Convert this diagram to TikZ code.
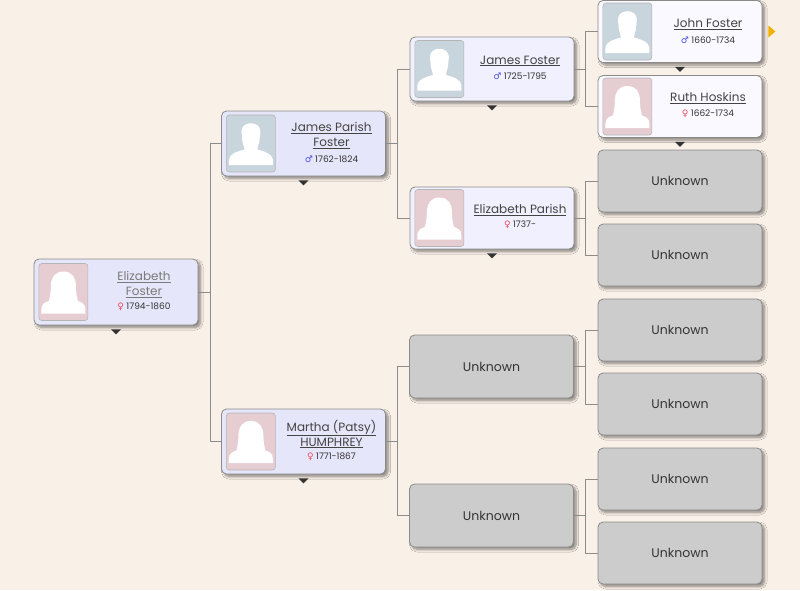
\documentclass[tikz,border=0pt]{standalone}
\usepackage{fontspec}
\setmainfont{Poppins}
\newfontfamily\symfont{DejaVu Sans}
\usetikzlibrary{shadows.blur,positioning,calc}
\definecolor{bgc}{HTML}{F9F0E7}
\definecolor{lav}{HTML}{E6E6FA}
\definecolor{lav2}{HTML}{F0F0FE}
\definecolor{lav3}{HTML}{F9F9FF}
\definecolor{unkc}{HTML}{CCCCCC}
\definecolor{boxborder}{HTML}{8A8A8A}
\definecolor{connc}{HTML}{8C8C8C}
\definecolor{malecol}{HTML}{C9D5DC}
\definecolor{femalecol}{HTML}{E6CDD1}
\definecolor{photoborder}{HTML}{B5B5B5}
\definecolor{linkc}{HTML}{444444}
\definecolor{visitc}{HTML}{7A7A7A}
\definecolor{datec}{HTML}{333333}
\definecolor{msym}{HTML}{4A4AE0}
\definecolor{fsym}{HTML}{E84A5A}
\definecolor{tric}{HTML}{333333}
\definecolor{goldc}{HTML}{F0B000}
\newcommand\malesym{{\symfont\textcolor{msym}{♂}}}
\newcommand\femalesym{{\symfont\textcolor{fsym}{♀}}}
\tikzset{
  box/.style={draw=boxborder, line width=0.8pt, rounded corners=5pt, minimum width=164pt,
    minimum height=64pt, inner sep=0pt,
    blur shadow={shadow xshift=2.5pt, shadow yshift=-2.5pt, shadow blur steps=8, shadow blur radius=2.5pt, shadow opacity=45}},
  unk/.style={box, fill=unkc, minimum height=62pt, text=datec, font=\fontsize{12.5}{14}\selectfont},
  photo/.style={draw=photoborder, line width=0.6pt, rounded corners=3pt, minimum width=49pt,
    minimum height=57pt, inner sep=0pt},
  link/.style={text=linkc, font=\fontsize{12}{15}\selectfont, align=center, inner sep=0pt},
  dates/.style={text=datec, font=\fontsize{9}{10}\selectfont, inner sep=0pt},
  conn/.style={draw=connc, line width=0.8pt},
  tri/.style={fill=tric},
  male/.pic={
    \fill[white] (-9.5,-12) .. controls (-9.5,-23) and (9.5,-23) .. (9.5,-12) -- (8.5,-2)
      .. controls (7.5,2) and (6.5,4) .. (6.5,6) .. controls (14,8) and (21,10) .. (22,16)
      -- (22,21.5) -- (-22,21.5) -- (-22,16) .. controls (-21,10) and (-14,8) .. (-6.5,6)
      .. controls (-6.5,4) and (-7.5,2) .. (-8.5,-2) -- cycle;
  },
  female/.pic={
    \fill[white] (0,-20.5) .. controls (-9,-20.5) and (-12.5,-14) .. (-12.5,-6)
      .. controls (-12.5,0) and (-13.5,5) .. (-14.5,9) .. controls (-18,10) and (-22,12) .. (-22,17)
      -- (-22,21.5) -- (22,21.5) -- (22,17) .. controls (22,12) and (18,10) .. (14.5,9)
      .. controls (13.5,5) and (12.5,0) .. (12.5,-6) .. controls (12.5,-14) and (9,-20.5) .. (0,-20.5) -- cycle;
  }
}
% #1 node name, #2 position, #3 box options, #4 male/female, #5 name, #6 dates, #7 name dy, #8 date dy
\newcommand\personbox[8]{%
  \node[box, #3] (#1) at #2 {};
  \node[photo, fill=#4col, right=5pt of #1.west] (#1P) {};
  \pic at (#1P) {#4};
  \node[link] (#1N) at ($(#1)+(28,#7)$) {#5};
  \node[dates] (#1D) at ($(#1)+(28,#8)$) {\csname #4sym\endcsname\ #6};
  \fill[tri] ($(#1.south)+(-5,4)$) -- ++(10,0) -- ++(-5,5) -- cycle;
}
\begin{document}
\begin{tikzpicture}[x=1pt,y=-1pt]
\fill[bgc] (0,0) rectangle (800,590);
\useasboundingbox (0,0) rectangle (800,590);

% generation 0
\personbox{g0}{(116,292)}{fill=lav, minimum height=66pt}{female}
  {\textcolor{visitc}{\underline{Elizabeth}}\\\textcolor{visitc}{\underline{Foster}}}{1794-1860}{-7.5}{15}
% generation 1
\personbox{g1a}{(303.5,143.5)}{fill=lav, minimum height=65pt}{male}
  {\underline{James Parish}\\\underline{Foster}}{1762-1824}{-8}{15.5}
\personbox{g1b}{(303.5,441.5)}{fill=lav, minimum height=65pt}{female}
  {\underline{Martha (Patsy)}\\\underline{HUMPHREY}}{1771-1867}{-7.5}{15.5}
% generation 2
\personbox{g2a}{(492,69)}{fill=lav2}{male}{\underline{James Foster}}{1725-1795}{-8}{7.5}
\personbox{g2b}{(492,218)}{fill=lav2, minimum height=62pt}{female}{\underline{Elizabeth Parish}}{1737-}{-8}{7}
\node[unk, minimum height=63pt] (g2c) at (491.5,366.5) {Unknown};
\node[unk, minimum height=63pt] (g2d) at (491.5,515.5) {Unknown};
% generation 3
\personbox{g3a}{(680,31.5)}{fill=lav3, minimum height=62pt}{male}{\underline{John Foster}}{1660-1734}{-7.5}{8.5}
\personbox{g3b}{(680,106.5)}{fill=lav3, minimum height=62pt}{female}{\underline{Ruth Hoskins}}{1662-1734}{-8.5}{7.5}
\node[unk] (g3c) at (680,181) {Unknown};
\node[unk] (g3d) at (680,255) {Unknown};
\node[unk] (g3e) at (680,330) {Unknown};
\node[unk] (g3f) at (680,404) {Unknown};
\node[unk] (g3g) at (680,479) {Unknown};
\node[unk] (g3h) at (680,553) {Unknown};

% more-ancestors marker
\fill[goldc] ($(g3a.east)+(6,-6)$) -- ++(7,6) -- ++(-7,6) -- cycle;

% connectors
\draw[conn] (g1a.west) -- ++(-11,0) coordinate (j0) |- (g1b.west);
\draw[conn] (g0.east) -- (g0.east -| j0);

\draw[conn] (g2a.west) -- ++(-12,0) coordinate (j1) |- (g2b.west);
\draw[conn] (g1a.east) -- (g1a.east -| j1);
\draw[conn] (g2c.west) -- ++(-12,0) coordinate (j2) |- (g2d.west);
\draw[conn] (g1b.east) -- (g1b.east -| j2);

\draw[conn] (g3a.west) -- ++(-12,0) coordinate (j3) |- (g3b.west);
\draw[conn] (g2a.east) -- (g2a.east -| j3);
\draw[conn] (g3c.west) -- ++(-12,0) coordinate (j4) |- (g3d.west);
\draw[conn] (g2b.east) -- (g2b.east -| j4);
\draw[conn] (g3e.west) -- ++(-12,0) coordinate (j5) |- (g3f.west);
\draw[conn] (g2c.east) -- (g2c.east -| j5);
\draw[conn] (g3g.west) -- ++(-12,0) coordinate (j6) |- (g3h.west);
\draw[conn] (g2d.east) -- (g2d.east -| j6);
\end{tikzpicture}
\end{document}
